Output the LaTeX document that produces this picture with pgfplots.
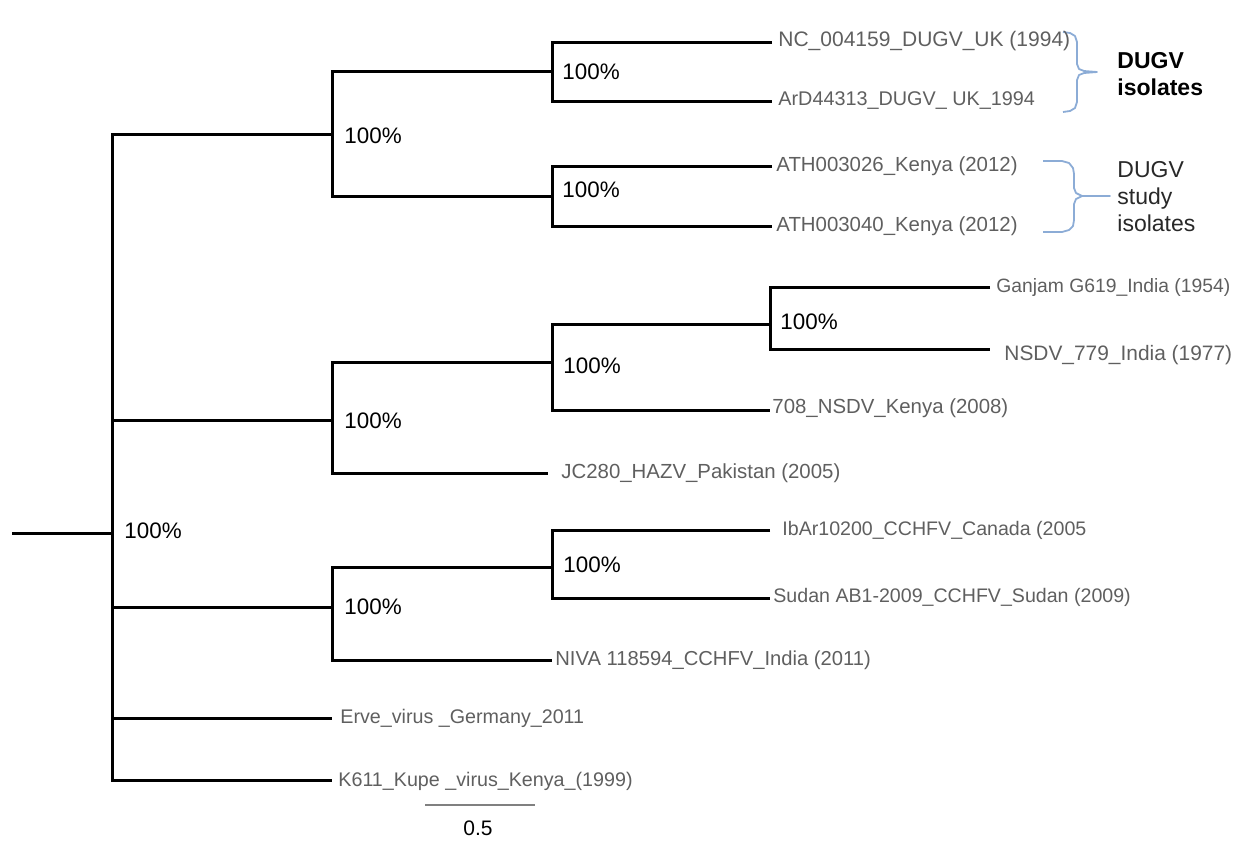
\documentclass[border=0pt]{standalone}
\usepackage{pgfplots}
\pgfplotsset{compat=1.18}
\usepackage{fontspec}
\setmainfont{Liberation Sans}
\definecolor{lbl}{RGB}{95,95,95}
\definecolor{brk}{RGB}{140,172,214}
\newcommand{\fs}[1]{\fontsize{#1}{12}\selectfont}
\begin{document}
\begin{tikzpicture}
\begin{axis}[
  width=617pt, height=429.5pt, scale only axis,
  xmin=0, xmax=1234, ymin=0, ymax=859, y dir=reverse,
  hide axis, clip=false, anchor=south west, at={(0,0)},
  br/.style={black, line width=1.5pt, line join=miter, mark=none, solid},
  bk/.style={brk, line width=0.9pt, line join=round, mark=none, solid},
]
% tree branches
\addplot[br] coordinates {(12,533) (112,533)};
\addplot[br] coordinates {(332,134) (112,134) (112,780) (332,780)};
\addplot[br] coordinates {(112,420) (332,420)};
\addplot[br] coordinates {(112,607) (332,607)};
\addplot[br] coordinates {(112,718) (332,718)};
% DUGV clade
\addplot[br] coordinates {(552,71) (332,71) (332,196) (552,196)};
\addplot[br] coordinates {(772,42) (552,42) (552,101) (772,101)};
\addplot[br] coordinates {(772,166) (552,166) (552,226) (772,226)};
% NSDV / HAZV clade
\addplot[br] coordinates {(552,362) (332,362) (332,473) (548,473)};
\addplot[br] coordinates {(770,324) (552,324) (552,410) (770,410)};
\addplot[br] coordinates {(990,287) (770,287) (770,349) (990,349)};
% CCHFV clade
\addplot[br] coordinates {(552,567) (332,567) (332,660) (552,660)};
\addplot[br] coordinates {(770,530) (552,530) (552,598) (770,598)};
% scale bar
\addplot[gray, line width=1pt, mark=none, solid] coordinates {(425,805) (535,805)};
% brackets
\addplot[bk] coordinates {(1063,32) (1070,33) (1075,36) (1077,42) (1077,64) (1079,69) (1084,71) (1097,72) (1084,73) (1079,75) (1077,80) (1077,102) (1075,108) (1070,111) (1063,112)};
\addplot[bk] coordinates {(1043,161) (1062,161) (1069,163) (1073,168) (1074,174) (1074,188) (1076,193) (1082,196) (1110,196) (1082,196) (1076,199) (1074,204) (1074,220) (1073,226) (1069,230) (1062,232) (1043,232)};
% leaf labels
\begin{scope}[every node/.style={anchor=west, inner sep=0pt, text=lbl}]
\node[font=\fs{10.5}] at (axis cs:778,41) {NC\_004159\_DUGV\_UK (1994)};
\node[font=\fs{9.9}] at (axis cs:778,101) {ArD44313\_DUGV\_ UK\_1994};
\node[font=\fs{10.2}] at (axis cs:776,166) {ATH003026\_Kenya (2012)};
\node[font=\fs{10.2}] at (axis cs:776,226) {ATH003040\_Kenya (2012)};
\node[font=\fs{9.65}] at (axis cs:996,287) {Ganjam G619\_India (1954)};
\node[font=\fs{10.45}] at (axis cs:1004,355) {NSDV\_779\_India (1977)};
\node[font=\fs{10.2}] at (axis cs:772,408) {708\_NSDV\_Kenya (2008)};
\node[font=\fs{10.2}] at (axis cs:561,473) {JC280\_HAZV\_Pakistan (2005)};
\node[font=\fs{9.8}] at (axis cs:782,530) {IbAr10200\_CCHFV\_Canada (2005};
\node[font=\fs{9.8}] at (axis cs:773,597) {Sudan AB1-2009\_CCHFV\_Sudan (2009)};
\node[font=\fs{10.1}] at (axis cs:555,660) {NIVA 118594\_CCHFV\_India (2011)};
\node[font=\fs{9.85}] at (axis cs:340,718) {Erve\_virus \_Germany\_2011};
\node[font=\fs{9.85}] at (axis cs:338,781) {K611\_Kupe \_virus\_Kenya\_(1999)};
\end{scope}
% bootstrap labels
\begin{scope}[every node/.style={anchor=west, inner sep=0pt, text=black, font=\fontsize{11.2}{13}\selectfont}]
\node at (axis cs:562,72) {100\%};
\node at (axis cs:562,190) {100\%};
\node at (axis cs:344,136) {100\%};
\node at (axis cs:780,322) {100\%};
\node at (axis cs:563,366) {100\%};
\node at (axis cs:344,421) {100\%};
\node at (axis cs:124,531) {100\%};
\node at (axis cs:563,565) {100\%};
\node at (axis cs:344,607) {100\%};
\end{scope}
\node[inner sep=0pt, font=\fontsize{10.5}{12}\selectfont] at (axis cs:478,828) {0.5};
% bracket labels
\node[anchor=west, inner sep=0pt, align=left, font=\fontsize{11.5}{13.5}\selectfont\bfseries] at (axis cs:1117,74) {DUGV\\isolates};
\node[anchor=west, inner sep=0pt, align=left, font=\fontsize{11.5}{13.5}\selectfont, text={rgb,255:red,40;green,40;blue,40}] at (axis cs:1117,197) {DUGV\\study\\isolates};
\end{axis}
\pgfresetboundingbox
\path (0,0) rectangle (617pt,429.5pt);
\end{tikzpicture}
\end{document}
